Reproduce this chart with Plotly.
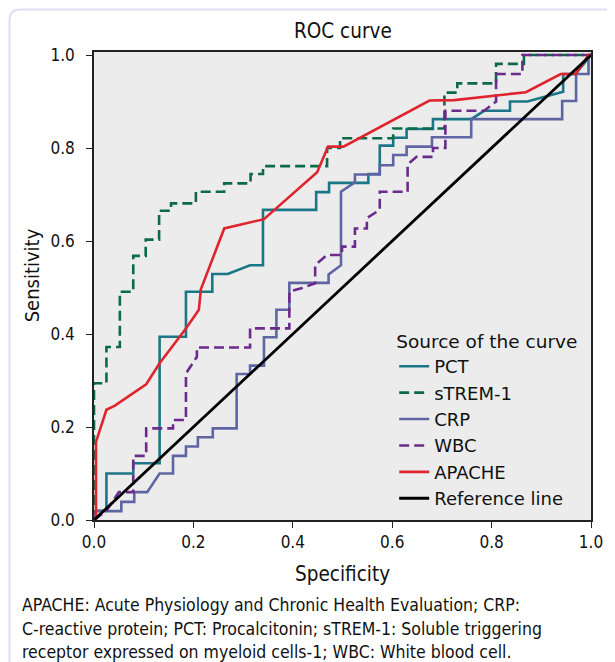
import plotly.graph_objects as go

# ---- data (specificity axis as drawn, sensitivity) ----
pct_x = [0, 0.004, 0.025, 0.025, 0.079, 0.079, 0.132, 0.132, 0.185, 0.185, 0.238, 0.238, 0.269, 0.314,
         0.34, 0.34, 0.447, 0.447, 0.473, 0.473, 0.552, 0.552, 0.575, 0.575, 0.602, 0.602, 0.629, 0.629,
         0.682, 0.682, 0.759, 0.785, 0.837, 0.837, 0.872, 0.919, 0.944, 0.944, 0.969, 1.0]
pct_y = [0, 0.02, 0.02, 0.10, 0.10, 0.122, 0.122, 0.394, 0.394, 0.491, 0.491, 0.529, 0.529, 0.548,
         0.548, 0.667, 0.667, 0.705, 0.705, 0.725, 0.725, 0.744, 0.744, 0.805, 0.805, 0.822, 0.822, 0.841,
         0.841, 0.862, 0.862, 0.880, 0.880, 0.90, 0.90, 0.914, 0.921, 0.959, 0.959, 1.0]

strem_x = [0, 0, 0.025, 0.025, 0.052, 0.052, 0.079, 0.079, 0.104, 0.104, 0.131, 0.131, 0.155, 0.155,
           0.205, 0.205, 0.262, 0.262, 0.315, 0.315, 0.34, 0.34, 0.469, 0.469, 0.495, 0.495, 0.602, 0.602,
           0.705, 0.705, 0.731, 0.731, 0.809, 0.809, 0.865, 0.865, 1.0]
strem_y = [0, 0.294, 0.294, 0.372, 0.372, 0.491, 0.491, 0.568, 0.568, 0.603, 0.603, 0.665, 0.665, 0.681,
           0.681, 0.706, 0.706, 0.724, 0.724, 0.744, 0.744, 0.761, 0.761, 0.80, 0.80, 0.821, 0.821, 0.842,
           0.842, 0.919, 0.919, 0.939, 0.939, 0.981, 0.981, 1.0, 1.0]

crp_x = [0, 0.004, 0.055, 0.055, 0.081, 0.081, 0.107, 0.132, 0.159, 0.159, 0.185, 0.185, 0.209, 0.209,
         0.239, 0.239, 0.287, 0.287, 0.314, 0.314, 0.342, 0.342, 0.367, 0.367, 0.393, 0.393, 0.472, 0.472,
         0.497, 0.497, 0.525, 0.525, 0.575, 0.575, 0.602, 0.602, 0.629, 0.629, 0.68, 0.68, 0.759, 0.759,
         0.942, 0.942, 0.97, 0.97, 0.995, 0.995, 1.0]
crp_y = [0, 0.019, 0.019, 0.039, 0.039, 0.06, 0.06, 0.10, 0.10, 0.138, 0.138, 0.158, 0.158, 0.178,
         0.178, 0.197, 0.197, 0.314, 0.314, 0.332, 0.332, 0.393, 0.393, 0.452, 0.452, 0.51, 0.51, 0.528,
         0.548, 0.706, 0.726, 0.743, 0.743, 0.763, 0.763, 0.785, 0.785, 0.803, 0.803, 0.823, 0.823, 0.862,
         0.862, 0.901, 0.901, 0.959, 0.959, 1.0, 1.0]

wbc_x = [0, 0.025, 0.05, 0.079, 0.079, 0.105, 0.105, 0.159, 0.159, 0.185, 0.185, 0.207, 0.207, 0.314,
         0.314, 0.393, 0.393, 0.419, 0.445, 0.445, 0.469, 0.499, 0.499, 0.525, 0.525, 0.549, 0.549, 0.575,
         0.575, 0.631, 0.631, 0.649, 0.682, 0.682, 0.707, 0.707, 0.785, 0.809, 0.809, 0.862, 0.862, 1.0]
wbc_y = [0, 0.02, 0.06, 0.06, 0.138, 0.138, 0.197, 0.197, 0.215, 0.215, 0.315, 0.351, 0.371, 0.371,
         0.412, 0.412, 0.491, 0.499, 0.509, 0.548, 0.57, 0.57, 0.588, 0.588, 0.627, 0.627, 0.649, 0.667,
         0.706, 0.706, 0.765, 0.781, 0.781, 0.80, 0.80, 0.88, 0.88, 0.90, 0.959, 0.959, 1.0, 1.0]

apache_x = [0, 0.004, 0.004, 0.025, 0.042, 0.105, 0.132, 0.185, 0.211, 0.215, 0.262, 0.342, 0.449,
            0.471, 0.502, 0.675, 0.725, 0.869, 0.939, 0.969, 0.995, 1.0]
apache_y = [0, 0.0, 0.168, 0.237, 0.246, 0.292, 0.337, 0.412, 0.452, 0.496, 0.627, 0.647, 0.748,
            0.803, 0.803, 0.902, 0.903, 0.92, 0.959, 0.959, 1.0, 1.0]

ref_x = [0, 1]
ref_y = [0, 1]

series = [
    ("PCT", pct_x, pct_y, "#1b7686", "solid", 2.6),
    ("sTREM-1", strem_x, strem_y, "#0b6a47", "10px,5px", 2.6),
    ("CRP", crp_x, crp_y, "#5f65a2", "solid", 2.6),
    ("WBC", wbc_x, wbc_y, "#6a2b8c", "10px,5px", 2.6),
    ("APACHE", apache_x, apache_y, "#e0242e", "solid", 2.6),
    ("Reference line", ref_x, ref_y, "#000000", "solid", 2.8),
]

FONT = "DejaVu Sans Condensed, DejaVu Sans, sans-serif"
FONT_WIDE = "DejaVu Sans, sans-serif"

fig = go.Figure()
for i, (name, xs, ys, col, dash, w) in enumerate(series):
    fig.add_trace(go.Scatter(x=xs, y=ys, mode="lines", name=name,
                             line=dict(color=col, dash=dash, width=w)))

# The page body has an 8px margin: the figure starts at page (8, 8).
OFF = 8
W, H = 615 - OFF, 662 - OFF
PX0, PX1, PY0, PY1 = 94, 594, 52, 520          # plot area in page pixels
L, R, T, B = PX0 - OFF, W - (PX1 - OFF), PY0 - OFF, H - (PY1 - OFF)
ph = H - T - B


def px2paper(px):
    return (px - OFF - L) / (W - L - R)


def py2paper(py):
    return (H - B - (py - OFF)) / ph


axis_common = dict(showgrid=False, zeroline=False, showline=True, linecolor="#222222", linewidth=1.5,
                   mirror=True, ticks="outside", ticklen=6, tickwidth=1.2, tickcolor="#222222",
                   tickfont=dict(size=17, color="#111111", family=FONT), tickformat=".1f", dtick=0.2,
                   tick0=0)

fig.update_layout(
    width=W, height=H,
    margin=dict(l=L, r=R, t=T, b=B, pad=0),
    paper_bgcolor="white",
    plot_bgcolor="#ececec",
    font=dict(family=FONT, size=16, color="#111111"),
    showlegend=True,
    legend=dict(
        title=dict(text="Source of the curve", font=dict(size=18.5, family=FONT_WIDE)),
        x=px2paper(396), y=py2paper(324), xanchor="left", yanchor="top",
        bgcolor="rgba(0,0,0,0)", borderwidth=0,
        font=dict(size=18, family=FONT_WIDE),
    ),
    xaxis=dict(range=[0, 1], **axis_common),
    yaxis=dict(range=[0, 1 + 3 / 465], ticklabelstandoff=8, **axis_common),
)

annotations = [
    dict(text="ROC curve", x=px2paper(345), y=py2paper(31), xref="paper", yref="paper",
         showarrow=False, font=dict(size=20.5), xanchor="center", yanchor="middle"),
    dict(text="Specificity", x=px2paper(344), y=py2paper(574), xref="paper", yref="paper",
         showarrow=False, font=dict(size=20.5), xanchor="center", yanchor="middle"),
    dict(text="Sensitivity", x=px2paper(32), y=py2paper(275), xref="paper", yref="paper",
         showarrow=False, font=dict(size=20), xanchor="center", yanchor="middle", textangle=-90),
]
caption = [
    "APACHE: Acute Physiology and Chronic Health Evaluation; CRP:",
    "C-reactive protein; PCT: Procalcitonin; sTREM-1: Soluble triggering",
    "receptor expressed on myeloid cells-1; WBC: White blood cell.",
]
for k, line in enumerate(caption):
    annotations.append(dict(text=line, x=px2paper(20), y=py2paper(605 + 23.5 * k), xref="paper",
                            yref="paper", showarrow=False, font=dict(size=17.5), xanchor="left",
                            yanchor="middle", align="left"))
fig.update_layout(annotations=annotations)

# light lavender frame at left/top of the page
x0, y0 = px2paper(9), py2paper(9.5)
fig.add_shape(type="path", xref="paper", yref="paper",
              path=(f"M {x0} {py2paper(670)} L {x0} {py2paper(20)} "
                    f"Q {x0} {y0} {px2paper(20)} {y0} L {px2paper(620)} {y0}"),
              line=dict(color="#dedff2", width=2), layer="below")

fig.write_html("out.html")
